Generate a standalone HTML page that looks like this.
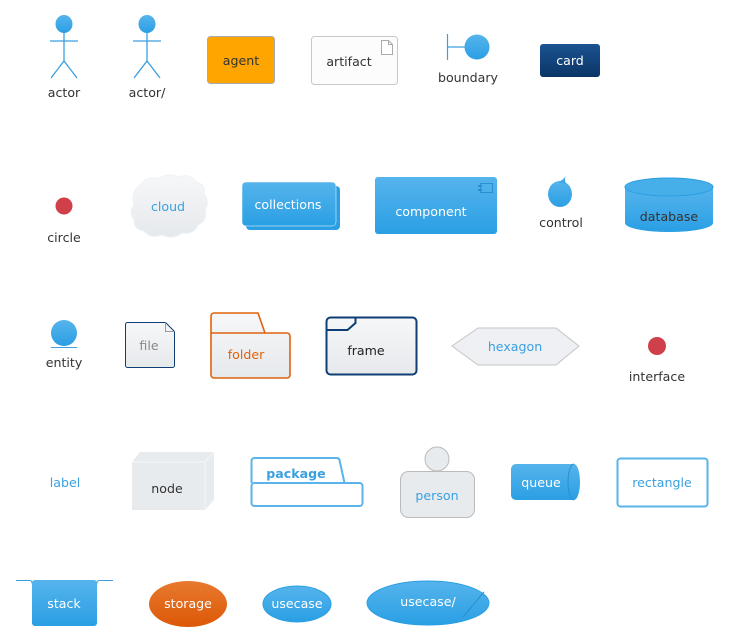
<!DOCTYPE html>
<html><head><meta charset="utf-8"><style>
html,body{margin:0;padding:0;background:#fff;}
svg{display:block;}
text{font-family:"DejaVu Sans","Liberation Sans",sans-serif;font-size:12.6px;text-anchor:middle;}
</style></head><body>
<svg width="735" height="638" viewBox="0 0 735 638" xmlns="http://www.w3.org/2000/svg">
<defs>
<linearGradient id="bl" x1="0" y1="0" x2="0" y2="1"><stop offset="0" stop-color="#56b4ec"/><stop offset="1" stop-color="#2a9fe4"/></linearGradient>
<linearGradient id="nv" x1="0" y1="0" x2="0" y2="1"><stop offset="0" stop-color="#1b5390"/><stop offset="1" stop-color="#0b3567"/></linearGradient>
<linearGradient id="or" x1="0" y1="0" x2="0" y2="1"><stop offset="0" stop-color="#e8792f"/><stop offset="1" stop-color="#dc5806"/></linearGradient>
<linearGradient id="gr" x1="0" y1="0" x2="0" y2="1"><stop offset="0" stop-color="#f6f7f9"/><stop offset="1" stop-color="#e6e9ec"/></linearGradient>
</defs>

<g stroke="#3aa0e0" stroke-width="1.3" fill="none">
<line x1="64" y1="32" x2="64" y2="61"/><line x1="50" y1="41" x2="78" y2="41"/><polyline points="51,78 64,61 77,78"/>
<line x1="147" y1="32" x2="147" y2="61"/><line x1="133" y1="41" x2="161" y2="41"/><polyline points="134,78 147,61 160,78"/>
</g>
<ellipse cx="64" cy="24" rx="8.5" ry="9" fill="url(#bl)"/>
<ellipse cx="147" cy="24" rx="8.5" ry="9" fill="url(#bl)"/>
<text x="64" y="97" fill="#333">actor</text>
<text x="147" y="97" fill="#333">actor/</text>

<rect x="207.5" y="36.5" width="67" height="47" rx="3" fill="#ffa500" stroke="#aaa"/>
<text x="241" y="65" fill="#333">agent</text>

<rect x="311.5" y="36.5" width="86" height="48" rx="3" fill="#fcfcfc" stroke="#c8c8c8"/>
<path d="M381.5 40.5 h7 l4 4 v10 h-11 z M388.5 40.5 v4 h4" fill="#fff" stroke="#aaa"/>
<text x="349" y="66" fill="#333">artifact</text>

<line x1="447.5" y1="34" x2="447.5" y2="60" stroke="#3aa0e0" stroke-width="1.2"/>
<line x1="447.5" y1="47" x2="465" y2="47" stroke="#3aa0e0" stroke-width="1.2"/>
<circle cx="477" cy="47" r="12.5" fill="url(#bl)"/>
<text x="468" y="82" fill="#333">boundary</text>

<rect x="540" y="44" width="60" height="33" rx="3" fill="url(#nv)"/>
<text x="570" y="65" fill="#fff">card</text>

<circle cx="64" cy="206" r="8.5" fill="#d0404b"/>
<text x="64" y="242" fill="#333">circle</text>

<path d="M140 185 q8 -10 18 -6 q10 -7 20 -2 q12 -4 18 5 q10 2 8 12 q6 8 1 16 q3 10 -7 15 q-4 10 -16 8 q-9 7 -20 2 q-12 4 -18 -4 q-10 -1 -10 -11 q-6 -8 0 -15 q-4 -12 6 -20z" fill="url(#gr)" stroke="#eef2f5"/>
<text x="168" y="211" fill="#3aa0e0">cloud</text>

<rect x="246" y="186" width="94" height="44" rx="4" fill="#2a9fe4"/>
<rect x="242" y="182" width="94" height="44" rx="4" fill="url(#bl)" stroke="#fff" stroke-width="0.5"/>
<text x="288" y="209" fill="#fff">collections</text>

<rect x="375" y="177" width="122" height="57" rx="3" fill="url(#bl)"/>
<rect x="480.5" y="183.5" width="12" height="9" fill="none" stroke="#2a8fd0"/>
<rect x="478" y="185" width="4" height="2" fill="#2a8fd0"/><rect x="478" y="189" width="4" height="2" fill="#2a8fd0"/>
<text x="431" y="216" fill="#fff">component</text>

<ellipse cx="560" cy="194" rx="12" ry="13" fill="url(#bl)"/>
<path d="M566 175 q-2 5 -8 7 l8 2 q-2 -5 0 -9z" fill="#3aa8e8"/>
<text x="561" y="227" fill="#333">control</text>

<path d="M625 187 v36 a44 9 0 0 0 88 0 v-36" fill="url(#bl)"/>
<ellipse cx="669" cy="187" rx="44" ry="9" fill="#46aee9" stroke="#2a9fe4"/>
<text x="669" y="221" fill="#333">database</text>

<ellipse cx="64" cy="333" rx="13" ry="13" fill="url(#bl)"/>
<line x1="51" y1="347.5" x2="77" y2="347.5" stroke="#3aa0e0"/>
<text x="64" y="367" fill="#333">entity</text>

<path d="M125.5 324.5 a2 2 0 0 1 2 -2 h38 l9 9 v34 a2 2 0 0 1 -2 2 h-45 a2 2 0 0 1 -2 -2z" fill="url(#gr)" stroke="#0e3e73"/>
<path d="M165.5 322.5 v9 h9" fill="none" stroke="#999"/>
<text x="149" y="350" fill="#888">file</text>

<path d="M211 333 v-17 a3 3 0 0 1 3 -3 h44 l7 20 h22 a3 3 0 0 1 3 3 v39 a3 3 0 0 1 -3 3 h-73 a3 3 0 0 1 -3 -3z" fill="url(#gr)" stroke="#e0620d" stroke-width="1.6"/>
<line x1="211" y1="333" x2="265" y2="333" stroke="#e0620d" stroke-width="1.6"/>
<text x="246" y="359" fill="#e0620d">folder</text>

<rect x="326.5" y="317.5" width="90" height="57" rx="4" fill="url(#gr)" stroke="#0e3e73" stroke-width="2"/>
<path d="M326.5 330 h21 l8 -7 v-5.5" fill="none" stroke="#0e3e73" stroke-width="2"/>
<text x="366" y="355" fill="#222">frame</text>

<polygon points="452,346 478,328 556,328 579,346 556,365 478,365" fill="#eef0f3" stroke="#c4c4c4"/>
<text x="515" y="351" fill="#3aa0e0">hexagon</text>

<circle cx="657" cy="346" r="9" fill="#d0404b"/>
<text x="657" y="381" fill="#333">interface</text>

<text x="65" y="487" fill="#3aa0e0">label</text>

<polygon points="140,452 214,452 214,500 205,510 132,510 132,462" fill="#e8ebee"/>
<path d="M132 462 h73 v48 M205 462 l9 -10" fill="none" stroke="#f3f5f7"/>
<text x="167" y="493" fill="#333">node</text>

<path d="M251.5 483 v-22 a3 3 0 0 1 3 -3 h82 a3 3 0 0 1 3 2 l5 23" fill="#fff" stroke="#5ab4ea" stroke-width="2"/>
<rect x="251.5" y="483" width="111" height="23" rx="3" fill="#fff" stroke="#5ab4ea" stroke-width="2"/>
<text x="296" y="478" fill="#3aa0e0" style="font-weight:bold">package</text>

<circle cx="437" cy="459" r="12" fill="#e8ebee" stroke="#bbb"/>
<rect x="400.5" y="471.5" width="74" height="46" rx="8" fill="#e8ebee" stroke="#bbb"/>
<text x="437" y="500" fill="#3aa0e0">person</text>

<path d="M516 464 h58 a6 18 0 0 1 0 36 h-58 a5 5 0 0 1 -5 -5 v-26 a5 5 0 0 1 5 -5z" fill="url(#bl)"/>
<path d="M574 464 a6 18 0 0 0 0 36" fill="none" stroke="#2a8fd0"/>
<text x="541" y="487" fill="#fff">queue</text>

<rect x="617.5" y="458.5" width="90" height="48" rx="3" fill="#fff" stroke="#5ab4ea" stroke-width="2"/>
<text x="662" y="487" fill="#3aa0e0">rectangle</text>

<rect x="32" y="580" width="65" height="46" rx="3" fill="url(#bl)"/>
<path d="M16 580.5 h14 q2 0 2 3 M97 583.5 q0 -3 2 -3 h14" fill="none" stroke="#3aa0e0"/>
<text x="64" y="608" fill="#fff">stack</text>

<ellipse cx="188" cy="604" rx="39" ry="23" fill="url(#or)"/>
<text x="188" y="608" fill="#fff">storage</text>

<ellipse cx="297" cy="604" rx="34" ry="18" fill="url(#bl)" stroke="#2a9fe4"/>
<text x="297" y="608" fill="#fff">usecase</text>

<ellipse cx="428" cy="603" rx="61" ry="22" fill="url(#bl)" stroke="#2a9fe4"/>
<line x1="484" y1="592" x2="463" y2="617" stroke="#2a8fd0"/>
<text x="428" y="606" fill="#fff">usecase/</text>
</svg>
</body></html>
